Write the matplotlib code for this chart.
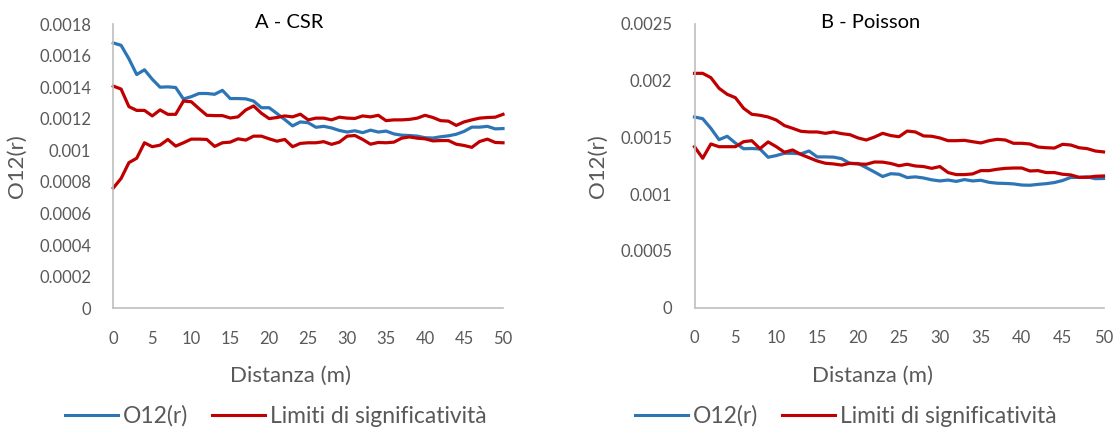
import matplotlib
matplotlib.use("Agg")
import matplotlib.pyplot as plt
from matplotlib.lines import Line2D

plt.rcParams['font.family'] = ['Lato', 'DejaVu Sans']

# Distances (m)
distance = list(range(51))

# Observed O12(r) (same observed function in both panels)
o12 = [0.00168, 0.001665, 0.00158, 0.00148, 0.00151, 0.00145, 0.0014, 0.001402, 0.001398, 0.001325,
       0.00134, 0.00136, 0.00136, 0.001355, 0.00138, 0.001328, 0.001328, 0.001326, 0.001312, 0.00127,
       0.00127, 0.001233, 0.001195, 0.001155, 0.00118, 0.001175, 0.001146, 0.001152, 0.001142, 0.001126,
       0.001116, 0.001124, 0.001112, 0.001128, 0.001116, 0.001122, 0.001104, 0.001096, 0.001094, 0.00109,
       0.00108, 0.001078, 0.001086, 0.001092, 0.001102, 0.00112, 0.001147, 0.001147, 0.001152, 0.001136,
       0.001138]

# A - CSR envelope
csr_upper = [0.001407, 0.001388, 0.001277, 0.001253, 0.001253, 0.001218, 0.001256, 0.001228, 0.001228, 0.001312,
             0.001308, 0.001264, 0.001222, 0.00122, 0.00122, 0.001205, 0.001212, 0.001256, 0.001281, 0.001235,
             0.001201, 0.001208, 0.001218, 0.001212, 0.001229, 0.001193, 0.001204, 0.001204, 0.001193, 0.00121,
             0.001204, 0.001202, 0.001218, 0.001212, 0.001222, 0.001188, 0.001193, 0.001193, 0.001196, 0.001204,
             0.001222, 0.001208, 0.001188, 0.001185, 0.001158, 0.00118, 0.001193, 0.001204, 0.001208, 0.00121,
             0.001228]
csr_lower = [0.000762, 0.000822, 0.000922, 0.00095, 0.001048, 0.001023, 0.001033, 0.001069, 0.001027, 0.001048,
             0.001071, 0.001071, 0.001069, 0.001025, 0.001048, 0.001052, 0.001073, 0.001065, 0.00109, 0.00109,
             0.001073, 0.001058, 0.001069, 0.001023, 0.001044, 0.001048, 0.001048, 0.001055, 0.001038, 0.001052,
             0.00109, 0.001094, 0.001069, 0.001039, 0.00105, 0.001048, 0.001052, 0.001077, 0.001085, 0.001077,
             0.001073, 0.00106, 0.001062, 0.001062, 0.001039, 0.001031, 0.001019, 0.001056, 0.001071, 0.00105,
             0.001048]

# B - Poisson envelope
poi_upper = [0.002065, 0.002065, 0.002027, 0.001933, 0.00188, 0.00185, 0.001757, 0.001704, 0.001695, 0.00168,
             0.001653, 0.001604, 0.00158, 0.001554, 0.001548, 0.001548, 0.001536, 0.001548, 0.001533, 0.001524,
             0.001495, 0.001477, 0.001503, 0.001536, 0.001516, 0.001506, 0.001556, 0.001548, 0.001513, 0.00151,
             0.001495, 0.001471, 0.001471, 0.001474, 0.001462, 0.001451, 0.001471, 0.001483, 0.001477, 0.001448,
             0.001448, 0.001442, 0.001415, 0.001409, 0.001406, 0.001439, 0.001433, 0.001409, 0.001401, 0.00138,
             0.001372]
poi_lower = [0.001418, 0.001316, 0.001442, 0.001418, 0.001418, 0.001418, 0.001462, 0.001471, 0.001401, 0.00146,
             0.001418, 0.001369, 0.001389, 0.00135, 0.001321, 0.001292, 0.001272, 0.001266, 0.001256, 0.001272,
             0.001266, 0.001263, 0.001283, 0.001282, 0.00127, 0.00125, 0.001263, 0.001248, 0.001243, 0.001227,
             0.001243, 0.00119, 0.001172, 0.001172, 0.001178, 0.001207, 0.001207, 0.001219, 0.001227, 0.00123,
             0.00123, 0.001204, 0.001207, 0.00119, 0.00119, 0.001175, 0.001169, 0.001148, 0.001148, 0.001157,
             0.00116]

x_ticks = [0, 5, 10, 15, 20, 25, 30, 35, 40, 45, 50]
a_yticks = [0, 0.0002, 0.0004, 0.0006, 0.0008, 0.001, 0.0012, 0.0014, 0.0016, 0.0018]
a_ylabels = ['0', '0.0002', '0.0004', '0.0006', '0.0008', '0.001', '0.0012', '0.0014', '0.0016', '0.0018']
b_yticks = [0, 0.0005, 0.001, 0.0015, 0.002, 0.0025]
b_ylabels = ['0', '0.0005', '0.001', '0.0015', '0.002', '0.0025']

BLUE = '#2E75B6'
RED = '#C00000'
GREY_TXT = '#595959'
GREY_AX = '#BFBFBF'

W, H = 1118, 430
fig = plt.figure(figsize=(W / 100, H / 100), dpi=100)


def px_axes(left, right, top, bottom):
    return fig.add_axes([left / W, 1 - bottom / H, (right - left) / W, (bottom - top) / H])


def style(ax, yticks, ylabels, ymax):
    ax.set_xlim(0, 50)
    ax.set_ylim(0, ymax)
    ax.set_xticks(x_ticks)
    ax.set_xticklabels([str(t) for t in x_ticks])
    ax.set_yticks(yticks)
    ax.set_yticklabels(ylabels)
    for s in ('top', 'right'):
        ax.spines[s].set_visible(False)
    for s in ('left', 'bottom'):
        ax.spines[s].set_color(GREY_AX)
        ax.spines[s].set_linewidth(1.2)
    ax.tick_params(axis='both', length=0, labelsize=12, colors=GREY_TXT)
    ax.tick_params(axis='y', pad=16)
    ax.tick_params(axis='x', pad=16)
    ax.set_ylabel('O12(r)', fontsize=16, color=GREY_TXT, labelpad=9)


def px_text(x, y, s, **kw):
    fig.text(x / W, 1 - y / H, s, ha='center', va='center', **kw)


def add_legend(cx):
    handles = [Line2D([], [], color=BLUE, lw=2.2),
               Line2D([], [], color=RED, lw=2.2)]
    fig.legend(handles, ['O12(r)', 'Limiti di significatività'],
               loc='center', bbox_to_anchor=(cx / W, 1 - 416 / H), ncol=2,
               frameon=False, fontsize=16.5, labelcolor=GREY_TXT,
               handlelength=2.3, handletextpad=0.22, columnspacing=1.05)


axA = px_axes(113.3, 503, 24, 308.3)
axA.plot(distance, o12, color=BLUE, lw=2.3, solid_joinstyle='round', clip_on=False)
axA.plot(distance, csr_upper, color=RED, lw=2.3, solid_joinstyle='round', clip_on=False)
axA.plot(distance, csr_lower, color=RED, lw=2.3, solid_joinstyle='round', clip_on=False)
style(axA, a_yticks, a_ylabels, 0.0018)
px_text(289, 22, 'A - CSR', fontsize=14.5, color='black')
px_text(290, 376, 'Distanza (m)', fontsize=16, color=GREY_TXT)
add_legend(276)

axB = px_axes(694.5, 1103.5, 24, 307.5)
axB.plot(distance, o12, color=BLUE, lw=2.3, solid_joinstyle='round', clip_on=False)
axB.plot(distance, poi_upper, color=RED, lw=2.3, solid_joinstyle='round', clip_on=False)
axB.plot(distance, poi_lower, color=RED, lw=2.3, solid_joinstyle='round', clip_on=False)
style(axB, b_yticks, b_ylabels, 0.0025)
px_text(871, 22, 'B - Poisson', fontsize=14.5, color='black')
px_text(872, 376, 'Distanza (m)', fontsize=16, color=GREY_TXT)
add_legend(846)

fig.savefig('out.png', dpi=100)
